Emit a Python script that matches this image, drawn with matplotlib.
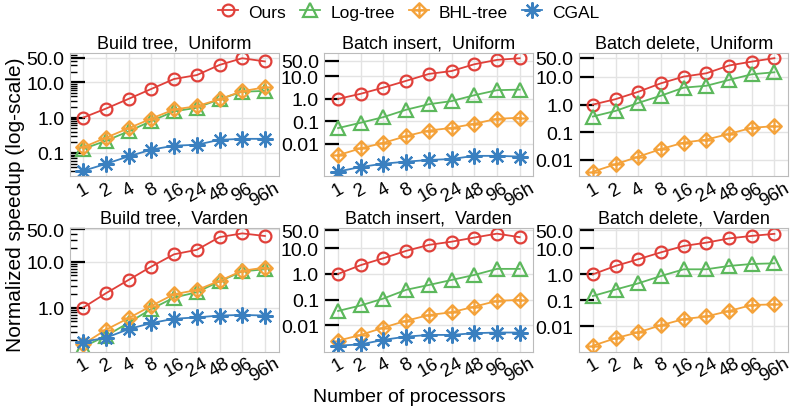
import numpy as np
import matplotlib
matplotlib.use('Agg')
import matplotlib.pyplot as plt
from matplotlib.path import Path
from matplotlib.ticker import FixedLocator, LogLocator, NullFormatter

plt.rcParams['font.family'] = ['Liberation Sans', 'DejaVu Sans']

procs = ['1', '2', '4', '8', '16', '24', '48', '96', '96h']
methods = ['Ours', 'Log-tree', 'BHL-tree', 'CGAL']

# speedups per panel
build_uni = {
    'Ours':     [1.0, 1.8, 3.4, 6.5, 12.4, 16, 31, 48, 39],
    'Log-tree': [0.13, 0.22, 0.41, 0.8, 1.5, 1.9, 3.3, 5.4, 5.7],
    'BHL-tree': [0.145, 0.27, 0.5, 0.94, 1.7, 2.1, 3.3, 5.6, 7.2],
    'CGAL':     [0.031, 0.049, 0.08, 0.124, 0.16, 0.17, 0.235, 0.25, 0.25],
}
insert_uni = {
    'Ours':     [1.0, 1.7, 3.2, 6.4, 13, 17.5, 35, 55, 65],
    'Log-tree': [0.05, 0.087, 0.155, 0.33, 0.58, 0.8, 1.46, 2.45, 2.6],
    'BHL-tree': [0.0031, 0.0063, 0.011, 0.022, 0.039, 0.051, 0.078, 0.13, 0.145],
    'CGAL':     [0.00058, 0.00093, 0.0013, 0.0016, 0.0019, 0.0021, 0.0029, 0.0029, 0.0027],
}
delete_uni = {
    'Ours':     [1.0, 1.57, 2.9, 5.9, 10.3, 13.6, 26, 36, 48],
    'Log-tree': [0.37, 0.59, 1.15, 2.1, 4.1, 4.8, 7.8, 12.5, 14.8],
    'BHL-tree': [0.0037, 0.0069, 0.013, 0.0245, 0.042, 0.054, 0.087, 0.144, 0.166],
}
build_var = {
    'Ours':     [1.0, 2.05, 4.0, 7.8, 14.4, 18, 34, 41, 36],
    'Log-tree': [0.14, 0.24, 0.47, 0.93, 1.65, 2.15, 3.7, 6.1, 6.8],
    'BHL-tree': [0.16, 0.33, 0.59, 1.09, 1.95, 2.4, 3.8, 6.3, 7.4],
    'CGAL':     [0.18, 0.22, 0.34, 0.46, 0.57, 0.61, 0.67, 0.69, 0.67],
}
insert_var = {
    'Ours':     [1.0, 2.2, 4.1, 7.9, 13.5, 18, 26, 37, 27],
    'Log-tree': [0.036, 0.059, 0.11, 0.24, 0.37, 0.58, 0.91, 1.57, 1.57],
    'BHL-tree': [0.0025, 0.0042, 0.0081, 0.015, 0.025, 0.032, 0.053, 0.089, 0.097],
    'CGAL':     [0.0016, 0.0018, 0.0027, 0.0036, 0.0042, 0.0042, 0.0049, 0.0052, 0.0052],
}
delete_var = {
    'Ours':     [1.0, 2.1, 3.8, 7.0, 12.3, 16.5, 24, 30, 36],
    'Log-tree': [0.147, 0.26, 0.45, 0.86, 1.56, 1.56, 2.1, 2.5, 2.65],
    'BHL-tree': [0.0018, 0.0035, 0.0059, 0.011, 0.019, 0.024, 0.039, 0.066, 0.07],
}

panels = [
    ('Build tree,  Uniform', build_uni, (0.0215, 67)),
    ('Batch insert,  Uniform', insert_uni, (0.00035, 110)),
    ('Batch delete,  Uniform', delete_uni, (0.0025, 73)),
    ('Build tree,  Varden', build_var, (0.11, 53)),
    ('Batch insert,  Varden', insert_var, (0.00094, 60)),
    ('Batch delete,  Varden', delete_var, (0.00107, 59)),
]

# diamond with a plus inside for BHL-tree
diam = Path([(0, 1), (1, 0), (0, -1), (-1, 0), (0, 1), (0, 1), (0, -1), (-1, 0), (1, 0)],
            [Path.MOVETO, Path.LINETO, Path.LINETO, Path.LINETO, Path.CLOSEPOLY,
             Path.MOVETO, Path.LINETO, Path.MOVETO, Path.LINETO])

style = {
    'Ours':     dict(color='#e0403a', marker='o', ms=8.5),
    'Log-tree': dict(color='#5cb85c', marker='^', ms=9.5),
    'BHL-tree': dict(color='#f4a23a', marker=diam, ms=10.5),
    'CGAL':     dict(color='#3a80c0', marker=(8, 2, 0), ms=11.5),
}

fig, axes = plt.subplots(2, 3, figsize=(7.92, 4.1), dpi=100)
plt.subplots_adjust(left=0.088, right=0.995, top=0.868, bottom=0.14, wspace=0.22, hspace=0.42)

x = np.arange(len(procs))
yt = [0.01, 0.1, 1.0, 10.0, 50.0]
ytl = ['0.01', '0.1', '1.0', '10.0', '50.0']

for ax, (title, data, lim) in zip(axes.flat, panels):
    for m in methods:
        if m not in data:
            continue
        s = style[m]
        ax.plot(x, data[m], color=s['color'], marker=s['marker'], ms=s['ms'],
                mfc='none', mew=1.6, lw=1.3, label=m)
    ax.set_yscale('log')
    ax.set_ylim(*lim)
    ax.set_xlim(-0.6, 8.6)
    ax.yaxis.set_major_locator(FixedLocator(yt))
    ax.set_yticklabels(ytl)
    ax.yaxis.set_minor_locator(LogLocator(base=10, subs=np.arange(2, 10)))
    ax.yaxis.set_minor_formatter(NullFormatter())
    ax.set_xticks(x)
    ax.set_xticklabels(procs, rotation=30, fontsize=13.5)
    ax.tick_params(axis='x', length=0, pad=2)
    ax.tick_params(axis='y', which='major', direction='in', length=11, width=1.6, labelsize=14, pad=4)
    ax.tick_params(axis='y', which='minor', direction='in', length=5, width=1.0)
    ax.grid(True, color='#e3e3e3', lw=1)
    ax.set_axisbelow(True)
    for sp in ax.spines.values():
        sp.set_color('#bbbbbb')
    ax.set_title(title, fontsize=13, pad=4)

h, l = axes[0, 0].get_legend_handles_labels()
fig.legend(h, l, loc='upper center', ncol=4, frameon=False, fontsize=12.5,
           bbox_to_anchor=(0.516, 1.025), handlelength=1.15, handletextpad=0.6,
           columnspacing=0.8)
fig.text(0.019, 0.5, 'Normalized speedup (log-scale)', rotation=90, va='center', ha='center', fontsize=15)
fig.text(0.517, 0.03, 'Number of processors', ha='center', va='center', fontsize=14)

plt.savefig('out.png')
